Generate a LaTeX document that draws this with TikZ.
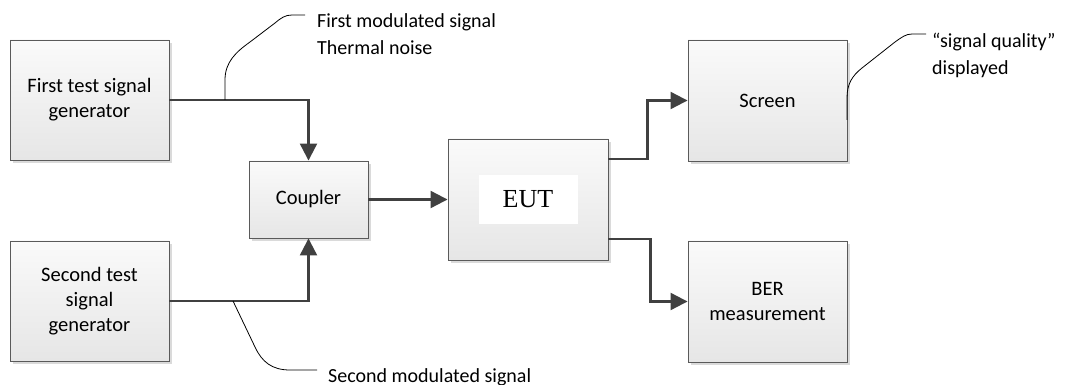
\documentclass[tikz,border=0pt]{standalone}
\usepackage{fontspec}
\setmainfont{Carlito}
\newfontfamily\timesfont{Liberation Serif}
\usetikzlibrary{arrows.meta,shadows}
\definecolor{boxborder}{HTML}{5A5A5A}
\definecolor{boxbottom}{HTML}{E6E6E6}
\definecolor{boxtop}{HTML}{FAFAFA}
\definecolor{shadowgray}{HTML}{DADADA}
\definecolor{conncol}{HTML}{404040}
\begin{document}
\begin{tikzpicture}[x=1pt,y=-1pt,
  box/.style={draw=boxborder, line width=0.9pt, top color=boxtop, bottom color=boxbottom,
    minimum width=159pt, minimum height=120pt, align=center, inner sep=0pt,
    font=\fontsize{20.5}{25}\selectfont,
    drop shadow={shadow xshift=3pt, shadow yshift=-3pt, fill=shadowgray, opacity=1}},
  conn/.style={draw=conncol, line width=2.2pt, -{Triangle[length=17pt,width=17pt]}},
  callout/.style={draw=black, line width=0.8pt},
  note/.style={font=\fontsize{20}{27.5}\selectfont, align=left, inner sep=0pt, anchor=base west}
]
\useasboundingbox (0,0) rectangle (1072,385);
\node[box] (g1) at (89.5,100) {First test signal\\generator};
\node[box] (g2) at (89.5,301) {Second test\\signal\\generator};
\node[box, minimum width=119pt, minimum height=77pt] (coupler) at (308.5,199.5) {Coupler};
\node[box, minimum width=160pt, minimum height=121pt] (eut) at (528,199.5) {};
\node[fill=white, minimum width=99pt, minimum height=49pt, inner sep=0pt,
  font=\timesfont\fontsize{26}{30}\selectfont] (eutlabel) at (eut.center) {EUT};
\node[box, minimum height=121pt] (screen) at (767.5,100.5) {Screen};
\node[box, minimum height=121pt] (ber) at (767.5,301.5) {BER\\measurement};

\draw[conn] (g1.east) -| (coupler.north);
\draw[conn] (g2.east) -| (coupler.south);
\draw[conn] (coupler.east) -- (eut.west);
\draw[conn] ([yshift=40.5pt]eut.east) -- ++(39,0) |- (screen.west);
\draw[conn] ([yshift=-39.5pt]eut.east) -- ++(42,0) |- (ber.west);

\node[note] (n1) at (317,55) {First modulated signal\\Thermal noise};
\node[note] (n2) at (932,75) {“signal quality”\\displayed};
\node[note] (n3) at (328,382) {Second modulated signal};

\coordinate (c1s) at (225,100);
\coordinate (c1e) at (305,15);
\coordinate (c2s) at (847,120);
\coordinate (c2e) at (926,34);
\coordinate (c3s) at (233,301);
\coordinate (c3e) at (317,370);

\draw[callout] (c1s) -- (225,80) .. controls (225,62) and (236,52) .. (250,42)
  -- (275,23) .. controls (281,18) and (285,15) .. (292,15) -- (c1e);
\draw[callout] (c2s) -- (847,98) .. controls (847,84) and (852,76) .. (862,68)
  -- (895,42) .. controls (902,37) and (906,34) .. (912,34) -- (c2e);
\draw[callout] (c3s) -- (255,347) .. controls (262,362) and (272,370) .. (290,370) -- (c3e);
\end{tikzpicture}
\end{document}
